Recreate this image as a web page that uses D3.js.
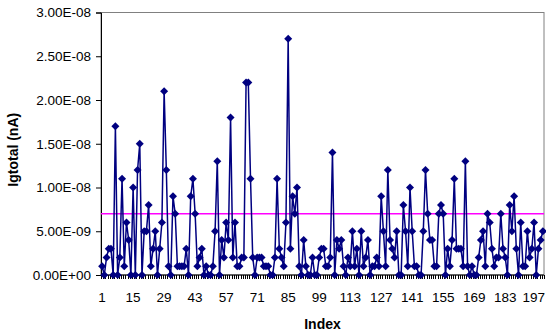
<!DOCTYPE html>
<html lang="en">
  <head>
    <meta charset="utf-8">
    <title>Igtotal by index</title>
    <style>
      body { margin: 0; background: #fff; }
      svg { display: block; }
      text { font-family: 'Liberation Sans', Arial, sans-serif; fill: #000; }
      .tick-label { font-size: 13.5px; }
      .axis-title { font-size: 14px; font-weight: bold; }
    </style>
  </head>
  <body>
    <div id="viz"></div>
    <script src="https://d3js.org/d3.v7.min.js"></script>
    <script>
      // Igtotal per index, in units of 1E-09 nA
      const igtotalE9 = [
        1, 0, 2, 3, 3, 0, 17, 0, 2, 11,
        1, 6, 4, 0, 10, 0, 12, 15, 0, 5,
        5, 8, 1, 3, 5, 0, 3, 6, 21, 12,
        1, 0, 9, 7, 1, 1, 1, 1, 3, 0,
        9, 11, 7, 1, 2, 3, 0, 1, 0, 0,
        1, 5, 13, 0, 4, 2, 6, 4, 18, 2,
        6, 1, 1, 2, 2, 22, 22, 11, 2, 0,
        2, 2, 2, 1, 1, 1, 0, 0, 2, 11,
        3, 2, 1, 6, 27, 3, 9, 7, 10, 1,
        0, 4, 1, 0, 0, 2, 0, 0, 2, 3,
        3, 1, 1, 2, 14, 0, 4, 3, 4, 1,
        0, 2, 1, 5, 1, 3, 0, 5, 1, 2,
        4, 0, 1, 1, 2, 1, 9, 5, 1, 12,
        4, 3, 2, 5, 0, 0, 8, 5, 1, 10,
        5, 1, 1, 0, 0, 5, 12, 7, 4, 4,
        1, 1, 7, 8, 7, 0, 3, 1, 4, 11,
        3, 3, 3, 1, 13, 1, 0, 1, 0, 0,
        2, 4, 5, 1, 7, 6, 3, 1, 2, 2,
        7, 3, 2, 0, 8, 5, 9, 3, 0, 6,
        1, 1, 5, 2, 3, 6, 0, 3, 4, 5
      ];
      const igtotal = igtotalE9.map(v => v * 1e-9);
      const indexes = igtotal.map((v, i) => i + 1);
      const xTickLabels = [1, 15, 29, 43, 57, 71, 85, 99, 113, 127, 141, 155, 169, 183, 197];
      const yTicks = [0, 5e-9, 1e-8, 1.5e-8, 2e-8, 2.5e-8, 3e-8];
      const limit = 7e-9;

      const width = 546, height = 336;
      const plot = { left: 101, top: 12.5, right: 544, bottom: 275 };

      const svg = d3.select("#viz").append("svg")
        .attr("width", width)
        .attr("height", height);

      const x = d3.scaleBand().domain(indexes).range([plot.left, plot.right]).padding(0);
      const y = d3.scaleLinear().domain([0, 3e-8]).range([plot.bottom, plot.top]);
      const cx = d => x(d) + x.bandwidth() / 2;

      // excel style 0.00E+00
      const sci = v => {
        if (v === 0) return "0.00E+00";
        let e = Math.floor(Math.log10(v) + 1e-9);
        let m = v / Math.pow(10, e);
        let es = String(Math.abs(e)).padStart(2, "0");
        return m.toFixed(2) + "E" + (e < 0 ? "-" : "+") + es;
      };

      // plot frame (grey top/right)
      svg.append("rect")
        .attr("x", plot.left).attr("y", plot.top)
        .attr("width", plot.right - plot.left).attr("height", plot.bottom - plot.top)
        .attr("fill", "none").attr("stroke", "#808080").attr("stroke-width", 1);

      // y axis
      const yAxis = svg.append("g")
        .attr("transform", `translate(${plot.left},0)`)
        .call(d3.axisLeft(y).tickValues(yTicks).tickFormat(sci).tickSize(5).tickPadding(5));
      yAxis.select(".domain").attr("stroke", "#000");
      yAxis.selectAll("text").attr("class", "tick-label").attr("font-family", null).attr("font-size", null);

      // x axis: tick marks at every category boundary
      const xAxis = svg.append("g")
        .attr("transform", `translate(0,${plot.bottom})`);
      xAxis.append("line")
        .attr("x1", plot.left).attr("x2", plot.right)
        .attr("stroke", "#000");
      xAxis.selectAll(".bnd")
        .data(indexes.concat([null]))
        .join("line")
        .attr("class", "bnd")
        .attr("x1", (d, i) => Math.round(plot.left + i * x.bandwidth()) + 0.5)
        .attr("x2", (d, i) => Math.round(plot.left + i * x.bandwidth()) + 0.5)
        .attr("y1", 0).attr("y2", 4)
        .attr("stroke", "#000");
      const xl = xAxis.selectAll(".xl")
        .data(xTickLabels)
        .join("text")
        .attr("class", "tick-label")
        .attr("x", d => cx(d))
        .attr("y", 27)
        .attr("text-anchor", "middle")
        .text(d => d);
      // keep the last label inside the page
      xl.each(function (d) {
        const bb = this.getBBox();
        if (bb.x + bb.width > width - 1) d3.select(this).attr("x", width - 1 - bb.width / 2);
      });

      // limit line
      svg.append("line")
        .attr("x1", plot.left).attr("x2", plot.right)
        .attr("y1", y(limit)).attr("y2", y(limit))
        .attr("stroke", "#ff00ff").attr("stroke-width", 1.5);

      // series
      svg.append("path")
        .datum(igtotal)
        .attr("fill", "none")
        .attr("stroke", "#000080")
        .attr("stroke-width", 1.5)
        .attr("d", d3.line().x((d, i) => cx(indexes[i])).y(d => y(d)));

      const r = 4;
      svg.append("g").selectAll("path")
        .data(igtotal)
        .join("path")
        .attr("transform", (d, i) => `translate(${cx(indexes[i])},${y(d)})`)
        .attr("d", `M0,${-r}L${r},0L0,${r}L${-r},0Z`)
        .attr("fill", "#000080");

      // titles
      svg.append("text")
        .attr("class", "axis-title")
        .attr("x", (plot.left + plot.right) / 2)
        .attr("y", 329)
        .attr("text-anchor", "middle")
        .text("Index");

      svg.append("text")
        .attr("class", "axis-title")
        .attr("transform", `translate(18,${(plot.top + plot.bottom) / 2 + 6}) rotate(-90)`)
        .attr("text-anchor", "middle")
        .text("Igtotal (nA)");
    </script>
  </body>
</html>
